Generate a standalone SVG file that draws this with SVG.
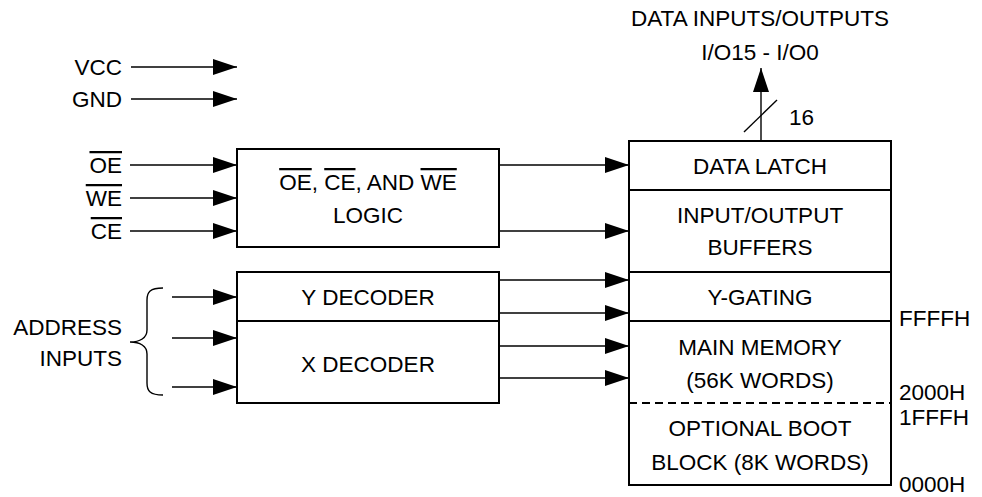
<svg xmlns="http://www.w3.org/2000/svg" width="982" height="497" viewBox="0 0 982 497">
<style>
text{font-family:"Liberation Sans",Arial,sans-serif;font-size:22.5px;fill:#000}
.c{text-anchor:middle}
.e{text-anchor:end}
.box{fill:#fff;stroke:#000;stroke-width:2}
.ln{stroke:#000;stroke-width:1.4;fill:none}
.ov{text-decoration:overline}
</style>
<defs>
<marker id="ah" markerUnits="userSpaceOnUse" markerWidth="24" markerHeight="16" refX="24" refY="8" orient="auto">
<path d="M0,0 L24,8 L0,16 z" fill="#000"/>
</marker>
</defs>
<g id="connectors">
<line class="ln" x1="131" y1="67" x2="237" y2="67" marker-end="url(#ah)"/>
<line class="ln" x1="131" y1="99" x2="237" y2="99" marker-end="url(#ah)"/>
<line class="ln" x1="130" y1="165" x2="237" y2="165" marker-end="url(#ah)"/>
<line class="ln" x1="130" y1="198" x2="237" y2="198" marker-end="url(#ah)"/>
<line class="ln" x1="130" y1="231" x2="237" y2="231" marker-end="url(#ah)"/>
<line class="ln" x1="499" y1="165" x2="629" y2="165" marker-end="url(#ah)"/>
<line class="ln" x1="499" y1="231" x2="629" y2="231" marker-end="url(#ah)"/>
<line class="ln" x1="172" y1="297" x2="237" y2="297" marker-end="url(#ah)"/>
<line class="ln" x1="172" y1="338" x2="237" y2="338" marker-end="url(#ah)"/>
<line class="ln" x1="172" y1="387" x2="237" y2="387" marker-end="url(#ah)"/>
<line class="ln" x1="499" y1="280" x2="629" y2="280" marker-end="url(#ah)"/>
<line class="ln" x1="499" y1="313" x2="629" y2="313" marker-end="url(#ah)"/>
<line class="ln" x1="499" y1="346" x2="629" y2="346" marker-end="url(#ah)"/>
<line class="ln" x1="499" y1="378" x2="629" y2="378" marker-end="url(#ah)"/>
<line class="ln" x1="761" y1="141" x2="761" y2="68" marker-end="url(#ah)"/>
<line class="ln" x1="744" y1="132" x2="777" y2="100" stroke-width="1.2"/>
<path class="ln" d="M163,288 C150,288 147,292 147,300 L147,330 C147,338 140,342 130,342 C140,342 147,346 147,354 L147,383 C147,391 150,395 163,395"/>
</g>
<g id="labels">
<text class="c" x="760" y="26">DATA INPUTS/OUTPUTS</text>
<text class="c" x="760" y="60">I/O15 - I/O0</text>
<text x="789" y="125">16</text>
<text class="e" x="122" y="75">VCC</text>
<text class="e" x="122" y="107">GND</text>
<text class="e" x="122" y="173"><tspan class="ov">OE</tspan></text>
<text class="e" x="122" y="206"><tspan class="ov">WE</tspan></text>
<text class="e" x="122" y="239"><tspan class="ov">CE</tspan></text>
<text class="e" x="122" y="335">ADDRESS</text>
<text class="e" x="122" y="366">INPUTS</text>
<text x="899" y="326">FFFFH</text>
<text x="899" y="400">2000H</text>
<text x="899" y="425">1FFFH</text>
<text x="899" y="492">0000H</text>
</g>
<g id="logic">
<rect class="box" x="237" y="149" width="262" height="98"/>
<text class="c" x="368" y="190"><tspan class="ov">OE</tspan>, <tspan class="ov">CE</tspan>, AND <tspan class="ov">WE</tspan></text>
<text class="c" x="368" y="223">LOGIC</text>
</g>
<g id="y-decoder">
<rect class="box" x="237" y="272" width="262" height="49"/>
<text class="c" x="368" y="305">Y DECODER</text>
</g>
<g id="x-decoder">
<rect class="box" x="237" y="321" width="262" height="82"/>
<text class="c" x="368" y="372">X DECODER</text>
</g>
<g id="data-latch">
<rect class="box" x="629" y="141" width="262" height="49"/>
<text class="c" x="760" y="174">DATA LATCH</text>
</g>
<g id="io-buffers">
<rect class="box" x="629" y="190" width="262" height="82"/>
<text class="c" x="760" y="223">INPUT/OUTPUT</text>
<text class="c" x="760" y="255">BUFFERS</text>
</g>
<g id="y-gating">
<rect class="box" x="629" y="272" width="262" height="49"/>
<text class="c" x="760" y="305">Y-GATING</text>
</g>
<g id="main-memory">
<rect class="box" x="629" y="321" width="262" height="164"/>
<line x1="629" y1="403" x2="891" y2="403" stroke="#000" stroke-width="2" stroke-dasharray="8,5"/>
<text class="c" x="760" y="355">MAIN MEMORY</text>
<text class="c" x="760" y="388">(56K WORDS)</text>
<text class="c" x="760" y="436">OPTIONAL BOOT</text>
<text class="c" x="760" y="470">BLOCK (8K WORDS)</text>
</g>
</svg>
